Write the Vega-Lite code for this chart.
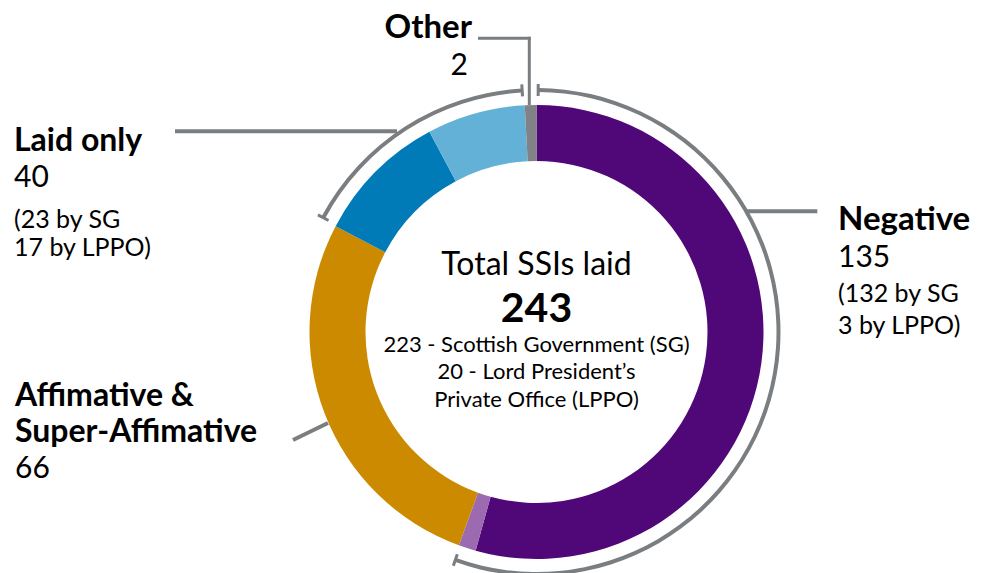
{
  "$schema": "https://vega.github.io/schema/vega-lite/v6.json",
  "width": 983,
  "height": 573,
  "autosize": {"type": "none"},
  "padding": 0,
  "background": "white",
  "config": {"view": {"stroke": null}},
  "datasets": {
    "ssi": [
      {"category": "Negative", "source": "SG", "segment": "Negative (SG)", "count": 132, "order": 1},
      {"category": "Negative", "source": "LPPO", "segment": "Negative (LPPO)", "count": 3, "order": 2},
      {"category": "Affimative & Super-Affimative", "source": "SG", "segment": "Affimative & Super-Affimative", "count": 66, "order": 3},
      {"category": "Laid only", "source": "SG", "segment": "Laid only (SG)", "count": 23, "order": 4},
      {"category": "Laid only", "source": "LPPO", "segment": "Laid only (LPPO)", "count": 17, "order": 5},
      {"category": "Other", "source": "SG", "segment": "Other", "count": 2, "order": 6}
    ]
  },
  "data": {"name": "ssi"},
  "layer": [
    {
      "mark": {"type": "arc", "radius": 227, "radius2": 171},
      "encoding": {
        "x": {"datum": 0, "type": "quantitative", "scale": {"domain": [-536.5, 446.5], "nice": false, "zero": false}, "axis": null},
        "y": {"datum": 0, "type": "quantitative", "scale": {"domain": [-241, 332], "nice": false, "zero": false}, "axis": null},
        "theta": {"field": "count", "type": "quantitative", "stack": true},
        "order": {"field": "order", "type": "quantitative"},
        "color": {
          "field": "segment", "type": "nominal", "legend": null,
          "scale": {
            "domain": ["Negative (SG)", "Negative (LPPO)", "Affimative & Super-Affimative", "Laid only (SG)", "Laid only (LPPO)", "Other"],
            "range": ["#500778", "#9B6AB0", "#CC8A00", "#007BB8", "#64B1D8", "#808285"]
          }
        }
      }
    },
    {
      "transform": [
        {"aggregate": [{"op": "sum", "field": "count", "as": "total"}, {"op": "min", "field": "order", "as": "corder"}], "groupby": ["category"]}
      ],
      "mark": {"type": "arc", "radius": 244, "radius2": 240, "padAngle": 0.01, "color": "#7A7E81"},
      "encoding": {
        "x": {"datum": 0, "type": "quantitative", "scale": {"domain": [-536.5, 446.5], "nice": false, "zero": false}, "axis": null},
        "y": {"datum": 0, "type": "quantitative", "scale": {"domain": [-241, 332], "nice": false, "zero": false}, "axis": null},
        "theta": {"field": "total", "type": "quantitative", "stack": true},
        "order": {"field": "corder", "type": "quantitative"},
        "opacity": {"condition": {"test": "datum.category === 'Negative' || datum.category === 'Laid only'", "value": 1}, "value": 0}
      }
    },
    {
      "data": {"values": [{}]},
      "mark": {"type": "rule", "color": "#7A7E81", "strokeWidth": 3},
      "encoding": {
        "x": {"datum": 1.65, "type": "quantitative", "scale": {"domain": [-536.5, 446.5], "nice": false, "zero": false}, "axis": null},
        "y": {"datum": 236, "type": "quantitative", "scale": {"domain": [-241, 332], "nice": false, "zero": false}, "axis": null},
        "x2": {"datum": 1.73}, "y2": {"datum": 248}
      }
    },
    {
      "data": {"values": [{}]},
      "mark": {"type": "rule", "color": "#7A7E81", "strokeWidth": 3},
      "encoding": {
        "x": {"datum": -79.17, "type": "quantitative", "scale": {"domain": [-536.5, 446.5], "nice": false, "zero": false}, "axis": null},
        "y": {"datum": -222.33, "type": "quantitative", "scale": {"domain": [-241, 332], "nice": false, "zero": false}, "axis": null},
        "x2": {"datum": -83.19}, "y2": {"datum": -233.63}
      }
    },
    {
      "data": {"values": [{}]},
      "mark": {"type": "rule", "color": "#7A7E81", "strokeWidth": 3},
      "encoding": {
        "x": {"datum": -207.99, "type": "quantitative", "scale": {"domain": [-536.5, 446.5], "nice": false, "zero": false}, "axis": null},
        "y": {"datum": 111.52, "type": "quantitative", "scale": {"domain": [-241, 332], "nice": false, "zero": false}, "axis": null},
        "x2": {"datum": -218.56}, "y2": {"datum": 117.19}
      }
    },
    {
      "data": {"values": [{}]},
      "mark": {"type": "rule", "color": "#7A7E81", "strokeWidth": 3},
      "encoding": {
        "x": {"datum": -14.0, "type": "quantitative", "scale": {"domain": [-536.5, 446.5], "nice": false, "zero": false}, "axis": null},
        "y": {"datum": 235.58, "type": "quantitative", "scale": {"domain": [-241, 332], "nice": false, "zero": false}, "axis": null},
        "x2": {"datum": -14.71}, "y2": {"datum": 247.56}
      }
    },
    {
      "data": {"values": [{}]},
      "mark": {"type": "rule", "color": "#7A7E81", "strokeWidth": 4},
      "encoding": {
        "x": {"datum": -361.5, "type": "quantitative", "scale": {"domain": [-536.5, 446.5], "nice": false, "zero": false}, "axis": null},
        "y": {"datum": 200.7, "type": "quantitative", "scale": {"domain": [-241, 332], "nice": false, "zero": false}, "axis": null},
        "x2": {"datum": -139.5}, "y2": {"datum": 200.7}
      }
    },
    {
      "data": {"values": [{}]},
      "mark": {"type": "rule", "color": "#7A7E81", "strokeWidth": 4},
      "encoding": {
        "x": {"datum": 210, "type": "quantitative", "scale": {"domain": [-536.5, 446.5], "nice": false, "zero": false}, "axis": null},
        "y": {"datum": 120.7, "type": "quantitative", "scale": {"domain": [-241, 332], "nice": false, "zero": false}, "axis": null},
        "x2": {"datum": 280.8}, "y2": {"datum": 120.7}
      }
    },
    {
      "data": {"values": [{}]},
      "mark": {"type": "rule", "color": "#7A7E81", "strokeWidth": 4},
      "encoding": {
        "x": {"datum": -243.5, "type": "quantitative", "scale": {"domain": [-536.5, 446.5], "nice": false, "zero": false}, "axis": null},
        "y": {"datum": -108, "type": "quantitative", "scale": {"domain": [-241, 332], "nice": false, "zero": false}, "axis": null},
        "x2": {"datum": -208.5}, "y2": {"datum": -91}
      }
    },
    {
      "data": {"values": [{}]},
      "mark": {"type": "rule", "color": "#7A7E81", "strokeWidth": 3},
      "encoding": {
        "x": {"datum": -58.5, "type": "quantitative", "scale": {"domain": [-536.5, 446.5], "nice": false, "zero": false}, "axis": null},
        "y": {"datum": 293.7, "type": "quantitative", "scale": {"domain": [-241, 332], "nice": false, "zero": false}, "axis": null},
        "x2": {"datum": -5.7}, "y2": {"datum": 293.7}
      }
    },
    {
      "data": {"values": [{}]},
      "mark": {"type": "rule", "color": "#7A7E81", "strokeWidth": 3},
      "encoding": {
        "x": {"datum": -7.2, "type": "quantitative", "scale": {"domain": [-536.5, 446.5], "nice": false, "zero": false}, "axis": null},
        "y": {"datum": 295.2, "type": "quantitative", "scale": {"domain": [-241, 332], "nice": false, "zero": false}, "axis": null},
        "x2": {"datum": -7.2}, "y2": {"datum": 227}
      }
    },
    {
      "data": {"values": [{}]},
      "mark": {"type": "text", "text": "Total SSIs laid", "font": "Lato", "fontSize": 32, "align": "center", "baseline": "alphabetic", "color": "#000000"},
      "encoding": {
        "x": {"datum": 0, "type": "quantitative", "scale": {"domain": [-536.5, 446.5], "nice": false, "zero": false}, "axis": null},
        "y": {"datum": 57, "type": "quantitative", "scale": {"domain": [-241, 332], "nice": false, "zero": false}, "axis": null}
      }
    },
    {
      "transform": [{"aggregate": [{"op": "sum", "field": "count", "as": "total"}]}],
      "mark": {"type": "text", "font": "Lato", "fontSize": 41, "fontWeight": "bold", "align": "center", "baseline": "alphabetic", "color": "#000000"},
      "encoding": {
        "text": {"field": "total", "type": "quantitative"},
        "x": {"datum": 0, "type": "quantitative", "scale": {"domain": [-536.5, 446.5], "nice": false, "zero": false}, "axis": null},
        "y": {"datum": 10.3, "type": "quantitative", "scale": {"domain": [-241, 332], "nice": false, "zero": false}, "axis": null}
      }
    },
    {
      "data": {"values": [{}]},
      "mark": {"type": "text", "text": ["223 - Scottish Government (SG)", "20 - Lord President’s", "Private Office (LPPO)"], "lineHeight": 27.4, "font": "Lato", "fontSize": 22, "align": "center", "baseline": "alphabetic", "color": "#000000"},
      "encoding": {
        "x": {"datum": 0, "type": "quantitative", "scale": {"domain": [-536.5, 446.5], "nice": false, "zero": false}, "axis": null},
        "y": {"datum": -20, "type": "quantitative", "scale": {"domain": [-241, 332], "nice": false, "zero": false}, "axis": null}
      }
    },
    {
      "data": {"values": [{}]},
      "mark": {"type": "text", "text": "Other", "font": "Lato", "fontSize": 33, "fontWeight": "bold", "align": "right", "baseline": "alphabetic", "color": "#000000"},
      "encoding": {
        "x": {"datum": -64.5, "type": "quantitative", "scale": {"domain": [-536.5, 446.5], "nice": false, "zero": false}, "axis": null},
        "y": {"datum": 294.5, "type": "quantitative", "scale": {"domain": [-241, 332], "nice": false, "zero": false}, "axis": null}
      }
    },
    {
      "transform": [{"filter": "datum.category === 'Other'"}, {"aggregate": [{"op": "sum", "field": "count", "as": "total"}]}],
      "mark": {"type": "text", "font": "Lato", "fontSize": 30, "align": "right", "baseline": "alphabetic", "color": "#000000"},
      "encoding": {
        "text": {"field": "total", "type": "quantitative"},
        "x": {"datum": -68.5, "type": "quantitative", "scale": {"domain": [-536.5, 446.5], "nice": false, "zero": false}, "axis": null},
        "y": {"datum": 257.5, "type": "quantitative", "scale": {"domain": [-241, 332], "nice": false, "zero": false}, "axis": null}
      }
    },
    {
      "data": {"values": [{}]},
      "mark": {"type": "text", "text": "Laid only", "font": "Lato", "fontSize": 32, "fontWeight": "bold", "align": "left", "baseline": "alphabetic", "color": "#000000"},
      "encoding": {
        "x": {"datum": -522.5, "type": "quantitative", "scale": {"domain": [-536.5, 446.5], "nice": false, "zero": false}, "axis": null},
        "y": {"datum": 181, "type": "quantitative", "scale": {"domain": [-241, 332], "nice": false, "zero": false}, "axis": null}
      }
    },
    {
      "transform": [{"filter": "datum.category === 'Laid only'"}, {"aggregate": [{"op": "sum", "field": "count", "as": "total"}]}],
      "mark": {"type": "text", "font": "Lato", "fontSize": 30, "align": "left", "baseline": "alphabetic", "color": "#000000"},
      "encoding": {
        "text": {"field": "total", "type": "quantitative"},
        "x": {"datum": -522.5, "type": "quantitative", "scale": {"domain": [-536.5, 446.5], "nice": false, "zero": false}, "axis": null},
        "y": {"datum": 145, "type": "quantitative", "scale": {"domain": [-241, 332], "nice": false, "zero": false}, "axis": null}
      }
    },
    {
      "data": {"values": [{}]},
      "mark": {"type": "text", "text": ["(23 by SG", "17 by LPPO)"], "lineHeight": 28.8, "font": "Lato", "fontSize": 25, "align": "left", "baseline": "alphabetic", "color": "#000000"},
      "encoding": {
        "x": {"datum": -522.5, "type": "quantitative", "scale": {"domain": [-536.5, 446.5], "nice": false, "zero": false}, "axis": null},
        "y": {"datum": 104.5, "type": "quantitative", "scale": {"domain": [-241, 332], "nice": false, "zero": false}, "axis": null}
      }
    },
    {
      "data": {"values": [{}]},
      "mark": {"type": "text", "text": "Negative", "font": "Lato", "fontSize": 33, "fontWeight": "bold", "align": "left", "baseline": "alphabetic", "color": "#000000"},
      "encoding": {
        "x": {"datum": 301.5, "type": "quantitative", "scale": {"domain": [-536.5, 446.5], "nice": false, "zero": false}, "axis": null},
        "y": {"datum": 102, "type": "quantitative", "scale": {"domain": [-241, 332], "nice": false, "zero": false}, "axis": null}
      }
    },
    {
      "transform": [{"filter": "datum.category === 'Negative'"}, {"aggregate": [{"op": "sum", "field": "count", "as": "total"}]}],
      "mark": {"type": "text", "font": "Lato", "fontSize": 30, "align": "left", "baseline": "alphabetic", "color": "#000000"},
      "encoding": {
        "text": {"field": "total", "type": "quantitative"},
        "x": {"datum": 301.5, "type": "quantitative", "scale": {"domain": [-536.5, 446.5], "nice": false, "zero": false}, "axis": null},
        "y": {"datum": 65.5, "type": "quantitative", "scale": {"domain": [-241, 332], "nice": false, "zero": false}, "axis": null}
      }
    },
    {
      "data": {"values": [{}]},
      "mark": {"type": "text", "text": ["(132 by SG", "3 by LPPO)"], "lineHeight": 32, "font": "Lato", "fontSize": 25, "align": "left", "baseline": "alphabetic", "color": "#000000"},
      "encoding": {
        "x": {"datum": 301.5, "type": "quantitative", "scale": {"domain": [-536.5, 446.5], "nice": false, "zero": false}, "axis": null},
        "y": {"datum": 30, "type": "quantitative", "scale": {"domain": [-241, 332], "nice": false, "zero": false}, "axis": null}
      }
    },
    {
      "data": {"values": [{}]},
      "mark": {"type": "text", "text": ["Affimative &", "Super-Affimative"], "lineHeight": 36.5, "font": "Lato", "fontSize": 32, "fontWeight": "bold", "align": "left", "baseline": "alphabetic", "color": "#000000"},
      "encoding": {
        "x": {"datum": -521.5, "type": "quantitative", "scale": {"domain": [-536.5, 446.5], "nice": false, "zero": false}, "axis": null},
        "y": {"datum": -73.5, "type": "quantitative", "scale": {"domain": [-241, 332], "nice": false, "zero": false}, "axis": null}
      }
    },
    {
      "transform": [{"filter": "datum.category === 'Affimative & Super-Affimative'"}, {"aggregate": [{"op": "sum", "field": "count", "as": "total"}]}],
      "mark": {"type": "text", "font": "Lato", "fontSize": 30, "align": "left", "baseline": "alphabetic", "color": "#000000"},
      "encoding": {
        "text": {"field": "total", "type": "quantitative"},
        "x": {"datum": -521.5, "type": "quantitative", "scale": {"domain": [-536.5, 446.5], "nice": false, "zero": false}, "axis": null},
        "y": {"datum": -145.5, "type": "quantitative", "scale": {"domain": [-241, 332], "nice": false, "zero": false}, "axis": null}
      }
    }
  ]
}
